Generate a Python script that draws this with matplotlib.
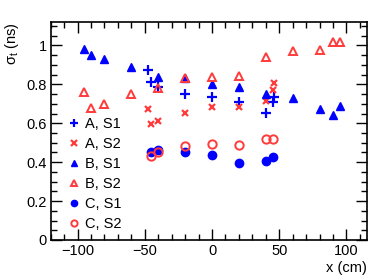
import numpy as np
import matplotlib
matplotlib.use('Agg')
import matplotlib.pyplot as plt
from matplotlib.ticker import MultipleLocator

plt.rcParams['font.family'] = ['Liberation Sans', 'DejaVu Sans']
plt.rcParams['mathtext.fontset'] = 'custom'
plt.rcParams['mathtext.rm'] = 'Liberation Sans'
plt.rcParams['mathtext.it'] = 'Liberation Sans'

# positions (cm)
xA = [-47.5, -45.5, -40, -20, 0, 20, 40, 45, 46]
xB = [-95, -90, -80, -60, -40, -20, 0, 20, 40, 60, 80, 90, 95]
xC = [-45.5, -40, -20, 0, 20, 40, 45]

# time resolution (ns)
A_S1 = [0.875, 0.81, 0.785, 0.752, 0.735, 0.71, 0.651, 0.708, 0.733]
A_S2 = [0.675, 0.598, 0.612, 0.653, 0.685, 0.685, 0.713, 0.77, 0.805]
B_S1 = [0.98, 0.95, 0.93, 0.89, 0.84, 0.835, 0.80, 0.785, 0.75, 0.73, 0.675, 0.645, 0.69]
B_S2 = [0.76, 0.68, 0.70, 0.75, 0.783, 0.832, 0.84, 0.845, 0.94, 0.97, 0.975, 1.02, 1.02]
C_S1 = [0.453, 0.46, 0.453, 0.436, 0.395, 0.405, 0.427]
C_S2 = [0.432, 0.45, 0.484, 0.492, 0.487, 0.521, 0.521]

blue = '#0000ff'
red = '#ff3b3b'

fig = plt.figure(figsize=(3.9, 2.8), dpi=100)
ax = fig.add_axes([0.130, 0.143, 0.810, 0.778])

ax.plot(xA, A_S1, '+', color=blue, ms=7, mew=1.6, label='A, S1')
ax.plot(xA, A_S2, 'x', color=red, ms=5, mew=1.6, label='A, S2')
ax.plot(xB, B_S1, '^', color=blue, ms=6, label='B, S1')
ax.plot(xB, B_S2, '^', color=red, mfc='none', ms=6, mew=1.4, label='B, S2')
ax.plot(xC, C_S1, 'o', color=blue, ms=6, label='C, S1')
ax.plot(xC, C_S2, 'o', color=red, mfc='none', ms=6, mew=1.4, label='C, S2')

ax.set_xlim(-120, 115)
ax.set_ylim(0, 1.12)
ax.xaxis.set_major_locator(MultipleLocator(50))
ax.xaxis.set_minor_locator(MultipleLocator(10))
ax.yaxis.set_major_locator(MultipleLocator(0.2))
ax.yaxis.set_minor_locator(MultipleLocator(0.05))
ax.yaxis.set_major_formatter(matplotlib.ticker.FuncFormatter(lambda v, p: f'{v:g}'))
ax.tick_params(which='both', direction='in', top=True, right=True, labelsize=10.5, pad=3)
ax.tick_params(which='major', length=8, width=1)
ax.tick_params(which='minor', length=4, width=1)
for s in ax.spines.values():
    s.set_linewidth(1.2)

ax.set_xlabel('x (cm)', loc='right', fontsize=10.5, labelpad=2)
ax.set_ylabel(r'$\sigma_t$ (ns)', loc='top', fontsize=10.5, labelpad=4)

ax.legend(loc='lower left', bbox_to_anchor=(0.055, 0.04), frameon=False, fontsize=10.5,
          handlelength=0.8, handletextpad=0.35, labelspacing=0.42, numpoints=1,
          markerscale=0.75, borderpad=0, borderaxespad=0)

fig.savefig('out.png', dpi=100)
